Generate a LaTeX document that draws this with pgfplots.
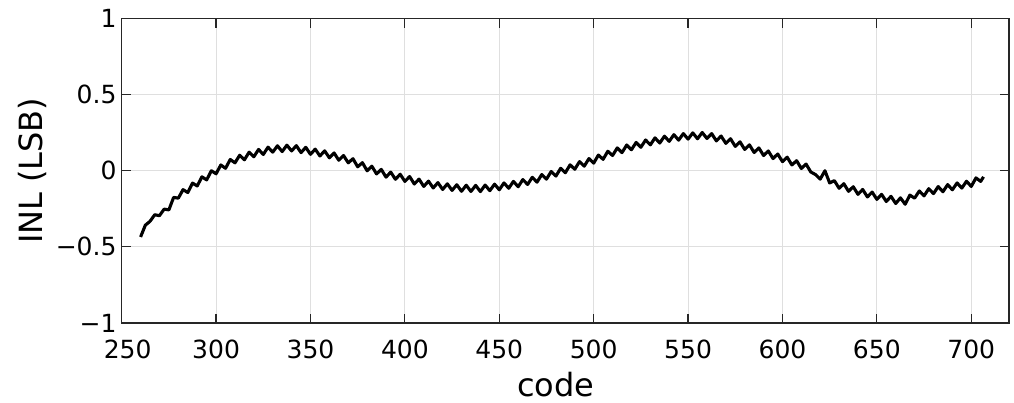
\documentclass[border=0pt]{standalone}
\usepackage{fontspec}
\setmainfont{DejaVu Sans}
\usepackage{pgfplots}
\pgfplotsset{compat=1.18}
\definecolor{gridc}{RGB}{223,223,223}
\definecolor{axc}{RGB}{38,38,38}

\begin{document}
\begin{tikzpicture}
\begin{axis}[
  scale only axis, width=887.3bp, height=304.5bp,
  xmin=250, xmax=720, ymin=-1, ymax=1,
  xtick={250,300,...,700}, ytick={-1,-0.5,0,0.5,1},
  xticklabels={\hspace*{12bp}250,300,350,400,450,500,550,600,650,700},
  yticklabels={−1,−0.5,0,0.5,1},
  tick align=inside, major tick length=9bp,
  grid=major, major grid style={gridc, line width=1bp},
  axis line style={axc, line width=1.2bp},
  every tick/.style={axc, line width=1.2bp},
  tick label style={font=\fontsize{25bp}{30bp}\selectfont, text=black},
  xticklabel style={anchor=base, yshift=-35.7bp, inner sep=0pt},
  yticklabel style={anchor=east, inner sep=0pt, xshift=-5bp},
  xlabel={code}, ylabel={INL (LSB)},
  label style={font=\fontsize{32bp}{38bp}\selectfont, inner sep=0pt},
  xlabel style={at={(axis description cs:0.489,-0.2430)}, anchor=base},
  ylabel style={at={(axis description cs:-0.0887,0.5)}, anchor=base},
]
\addplot[black, line width=3.1bp, line join=round, mark=none] coordinates {
(260,-0.435) (262.5,-0.358) (265,-0.332) (267.5,-0.289) (270,-0.295)
(272.5,-0.252) (275,-0.257) (277.5,-0.175) (280,-0.180) (282.5,-0.124)
(285,-0.143) (287.5,-0.081) (290,-0.100) (292.5,-0.040) (295,-0.060)
(297.5,0.000) (300,-0.020) (302.5,0.038) (305,0.016) (307.5,0.074)
(310,0.052) (312.5,0.102) (315,0.072) (317.5,0.122) (320,0.092)
(322.5,0.140) (325,0.107) (327.5,0.155) (330,0.122) (332.5,0.164)
(335,0.126) (337.5,0.168) (340,0.130) (342.5,0.165) (345,0.119)
(347.5,0.154) (350,0.108) (352.5,0.142) (355,0.097) (357.5,0.131)
(360,0.085) (362.5,0.117) (365,0.069) (367.5,0.100) (370,0.052)
(372.5,0.079) (375,0.026) (377.5,0.053) (380,0.000) (382.5,0.030)
(385,-0.021) (387.5,0.009) (390,-0.042) (392.5,-0.009) (395,-0.056)
(397.5,-0.023) (400,-0.070) (402.5,-0.038) (405,-0.087) (407.5,-0.055)
(410,-0.103) (412.5,-0.068) (415,-0.113) (417.5,-0.078) (420,-0.123)
(422.5,-0.086) (425,-0.129) (427.5,-0.092) (430,-0.135) (432.5,-0.095)
(435,-0.136) (437.5,-0.096) (440,-0.137) (442.5,-0.094) (445,-0.131)
(447.5,-0.088) (450,-0.125) (452.5,-0.080) (455,-0.115) (457.5,-0.070)
(460,-0.105) (462.5,-0.058) (465,-0.090) (467.5,-0.043) (470,-0.075)
(472.5,-0.025) (475,-0.055) (477.5,-0.005) (480,-0.035) (482.5,0.016)
(485,-0.013) (487.5,0.039) (490,0.010) (492.5,0.060) (495,0.030)
(497.5,0.080) (500,0.050) (502.5,0.103) (505,0.075) (507.5,0.128)
(510,0.100) (512.5,0.150) (515,0.119) (517.5,0.169) (520,0.138)
(522.5,0.186) (525,0.154) (527.5,0.202) (530,0.170) (532.5,0.216)
(535,0.182) (537.5,0.227) (540,0.193) (542.5,0.237) (545,0.201)
(547.5,0.244) (550,0.208) (552.5,0.249) (555,0.210) (557.5,0.251)
(560,0.212) (562.5,0.244) (565,0.196) (567.5,0.228) (570,0.180)
(572.5,0.210) (575,0.160) (577.5,0.190) (580,0.140) (582.5,0.170)
(585,0.120) (587.5,0.150) (590,0.100) (592.5,0.130) (595,0.080)
(597.5,0.110) (600,0.060) (602.5,0.089) (605,0.038) (607.5,0.066)
(610,0.015) (612.5,0.044) (615,-0.008) (617.5,-0.025) (620,-0.055)
(622.5,0.000) (625,-0.080) (627.5,-0.065) (630,-0.115) (632.5,-0.085)
(635,-0.135) (637.5,-0.105) (640,-0.155) (642.5,-0.123) (645,-0.172)
(647.5,-0.140) (650,-0.188) (652.5,-0.155) (655,-0.202) (657.5,-0.168)
(660,-0.215) (662.5,-0.178) (665,-0.220) (667.5,-0.160) (670,-0.180)
(672.5,-0.133) (675,-0.165) (677.5,-0.118) (680,-0.150) (682.5,-0.104)
(685,-0.138) (687.5,-0.091) (690,-0.125) (692.5,-0.080) (695,-0.114)
(697.5,-0.069) (700,-0.103) (702.5,-0.047) (705,-0.070) (706.5,-0.040)
};
\end{axis}
\path (current axis.south west) ++(-121.7bp,-80bp) rectangle ++(1014bp,403bp);
\end{tikzpicture}
\end{document}
